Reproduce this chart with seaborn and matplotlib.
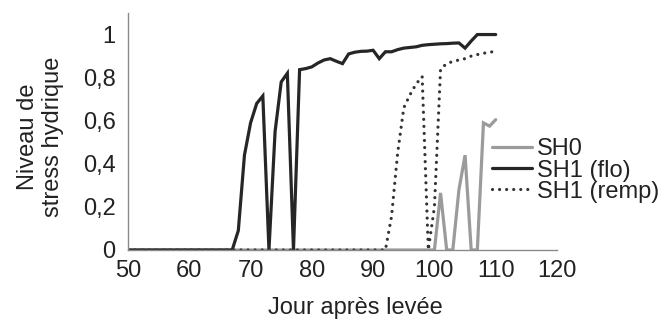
import matplotlib
matplotlib.use("Agg")
import matplotlib.pyplot as plt
import seaborn as sns
import pandas as pd
from matplotlib.lines import Line2D

days = list(range(50, 111))

sh0 = [0, 0, 0, 0, 0, 0, 0, 0, 0, 0,          # 50-59
       0, 0, 0, 0, 0, 0, 0, 0, 0, 0,          # 60-69
       0, 0, 0, 0, 0, 0, 0, 0, 0, 0,          # 70-79
       0, 0, 0, 0, 0, 0, 0, 0, 0, 0,          # 80-89
       0, 0, 0, 0, 0, 0, 0, 0, 0, 0,          # 90-99
       0, 0.265, 0, 0, 0.28, 0.44, 0, 0, 0.59, 0.575,  # 100-109
       0.605]                                  # 110

sh1_flo = [0, 0, 0, 0, 0, 0, 0, 0, 0, 0,       # 50-59
           0, 0, 0, 0, 0, 0, 0, 0, 0.09, 0.44,  # 60-69
           0.59, 0.68, 0.715, 0, 0.55, 0.78, 0.82, 0, 0.837, 0.842,  # 70-79
           0.85, 0.868, 0.882, 0.888, 0.876, 0.865, 0.91, 0.918, 0.922, 0.923,  # 80-89
           0.927, 0.888, 0.92, 0.92, 0.93, 0.937, 0.94, 0.943, 0.95, 0.953,  # 90-99
           0.955, 0.957, 0.958, 0.96, 0.961, 0.937, 0.97, 1.0, 1.0, 1.0,  # 100-109
           1.0]                                # 110

sh1_remp = [0, 0, 0, 0, 0, 0, 0, 0, 0, 0,      # 50-59
            0, 0, 0, 0, 0, 0, 0, 0, 0, 0,      # 60-69
            0, 0, 0, 0, 0, 0, 0, 0, 0, 0,      # 70-79
            0, 0, 0, 0, 0, 0, 0, 0, 0, 0,      # 80-89
            0, 0, 0, 0.155, 0.45, 0.66, 0.72, 0.77, 0.805, 0,  # 90-99
            0.2, 0.84, 0.865, 0.875, 0.882, 0.888, 0.9, 0.907, 0.913, 0.918,  # 100-109
            0.922]                             # 110

series_names = ["SH0", "SH1 (flo)", "SH1 (remp)"]
x_ticks = [50, 60, 70, 80, 90, 100, 110, 120]
y_ticks = [0, 0.2, 0.4, 0.6, 0.8, 1.0]
y_tick_labels = ["0", "0,2", "0,4", "0,6", "0,8", "1"]
x_label = "Jour après levée"
y_label = "Niveau de\nstress hydrique"

sns.set_theme(style="white")
plt.rcParams["font.family"] = ["Liberation Sans", "DejaVu Sans"]

FS = 17
fig = plt.figure(figsize=(6.72, 3.19), dpi=100)
ax = fig.add_axes([128 / 672, 1 - 250 / 319, (557 - 128) / 672, (250 - 13) / 319])

df = pd.DataFrame({"day": days, "SH0": sh0, "SH1 (flo)": sh1_flo, "SH1 (remp)": sh1_remp})

styles = {
    "SH0": dict(color="#9b9b9b", lw=2.3, ls="-"),
    "SH1 (flo)": dict(color="#262626", lw=2.3, ls="-"),
    "SH1 (remp)": dict(color="#333333", lw=2.3, ls=(0, (0.01, 2.2))),
}

for name in series_names:
    st = styles[name]
    sns.lineplot(data=df, x="day", y=name, ax=ax, color=st["color"],
                 linewidth=st["lw"], linestyle=st["ls"], legend=False)
for ln in ax.get_lines():
    ln.set_dash_capstyle("round")
    ln.set_solid_joinstyle("miter")

ax.set_xlim(50, 120)
ax.set_ylim(0, 1.1)
ax.set_xticks(x_ticks)
ax.set_xticklabels([str(v) for v in x_ticks])
ax.set_yticks(y_ticks)
ax.set_yticklabels(y_tick_labels)

for s in ["top", "right"]:
    ax.spines[s].set_visible(False)
for s in ["left", "bottom"]:
    ax.spines[s].set_color("#8a8a8a")
    ax.spines[s].set_linewidth(1.0)

ax.tick_params(axis="both", which="major", direction="out", length=4, width=1,
               color="#8a8a8a", labelsize=FS, labelcolor="#222222")
ax.tick_params(axis="y", pad=5)
ax.tick_params(axis="x", pad=3)

ax.set_xlabel(x_label, fontsize=FS, color="#222222")
ax.set_ylabel(y_label, fontsize=FS, color="#222222", linespacing=1.15)
ax.xaxis.set_label_coords((355 - 128) / 429, -(297 - 250) / 237)
ax.yaxis.set_label_coords(-(128 - 64) / 429, (250 - 137) / 237)

handles = [Line2D([0], [0], color=styles[n]["color"], lw=styles[n]["lw"],
                  ls=styles[n]["ls"], dash_capstyle="round") for n in series_names]
leg = ax.legend(handles, series_names, loc="center left",
                bbox_to_anchor=((492 - 128) / 429, (250 - 170.5) / 237),
                frameon=False, fontsize=FS, handlelength=1.7, handletextpad=0.22,
                labelspacing=-0.04, borderpad=0, borderaxespad=0)
for t in leg.get_texts():
    t.set_color("#222222")

fig.savefig("out.png", dpi=100)
